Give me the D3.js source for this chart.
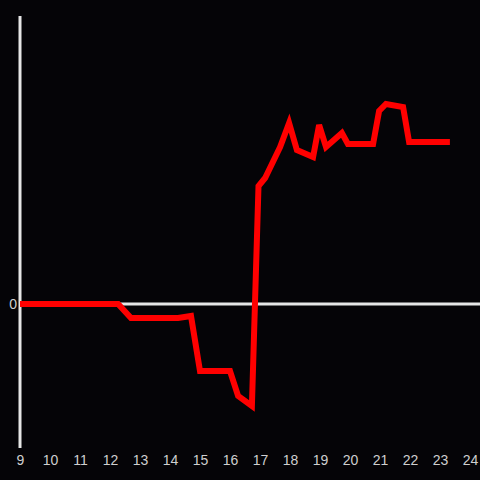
<!DOCTYPE html>
<html><head><meta charset="utf-8">
<script src="https://cdn.jsdelivr.net/npm/d3@7"></script>
<style>html,body{margin:0;padding:0;background:#050407;}</style>
</head><body>
<svg id="c" width="480" height="480"></svg>
<script>
const hours = [9, 12.27, 12.7, 14.27, 14.7, 15, 16, 16.27, 16.73, 16.95, 17.17, 17.67, 17.97, 18.23, 18.77, 18.97, 19.2, 19.73, 19.93, 20.77, 20.97, 21.2, 21.77, 21.97, 23.33];
const values = [0, 0, -14, -14, -12, -67, -67, -92, -102, 118, 126, 157, 181, 154, 147, 179, 157, 171, 160, 160, 193, 200, 197, 162, 162];
const xTicks = [9,10,11,12,13,14,15,16,17,18,19,20,21,22,23,24];
const yTicks = [0];

const svg = d3.select("#c");
svg.append("rect").attr("width",480).attr("height",480).attr("fill","#050407");
const x = d3.scaleLinear().domain([9,24]).range([20,470]);
const y = d3.scaleLinear().domain([-144,288]).range([448,16]);

// zero line
svg.append("line").attr("x1",x(9)).attr("x2",480).attr("y1",y(0)).attr("y2",y(0))
  .attr("stroke","#e6e6e6").attr("stroke-width",3);
// y axis line
svg.append("line").attr("x1",x(9)).attr("x2",x(9)).attr("y1",16).attr("y2",448)
  .attr("stroke","#e6e6e6").attr("stroke-width",3);

const xAxis = svg.append("g").attr("transform","translate(0,461)")
  .call(d3.axisBottom(x).tickValues(xTicks).tickSize(0).tickPadding(0).tickFormat(d3.format("d")));
xAxis.select(".domain").remove();
xAxis.selectAll("text").attr("fill","#cfcfcf").attr("font-family","Liberation Sans, Arial, sans-serif")
  .attr("font-size",14).attr("dy","0.32em");

const yAxis = svg.append("g").attr("transform","translate(17,0)")
  .call(d3.axisLeft(y).tickValues(yTicks).tickSize(0).tickPadding(0).tickFormat(d3.format("d")));
yAxis.select(".domain").remove();
yAxis.selectAll("text").attr("fill","#cfcfcf").attr("font-family","Liberation Sans, Arial, sans-serif")
  .attr("font-size",14);

const data = hours.map((h,i)=>[h,values[i]]);
svg.append("path").datum(data)
  .attr("fill","none").attr("stroke","#ff0000").attr("stroke-width",6)
  .attr("stroke-linejoin","miter").attr("stroke-linecap","butt")
  .attr("d", d3.line().x(d=>x(d[0])).y(d=>y(d[1])));
</script>
</body></html>
